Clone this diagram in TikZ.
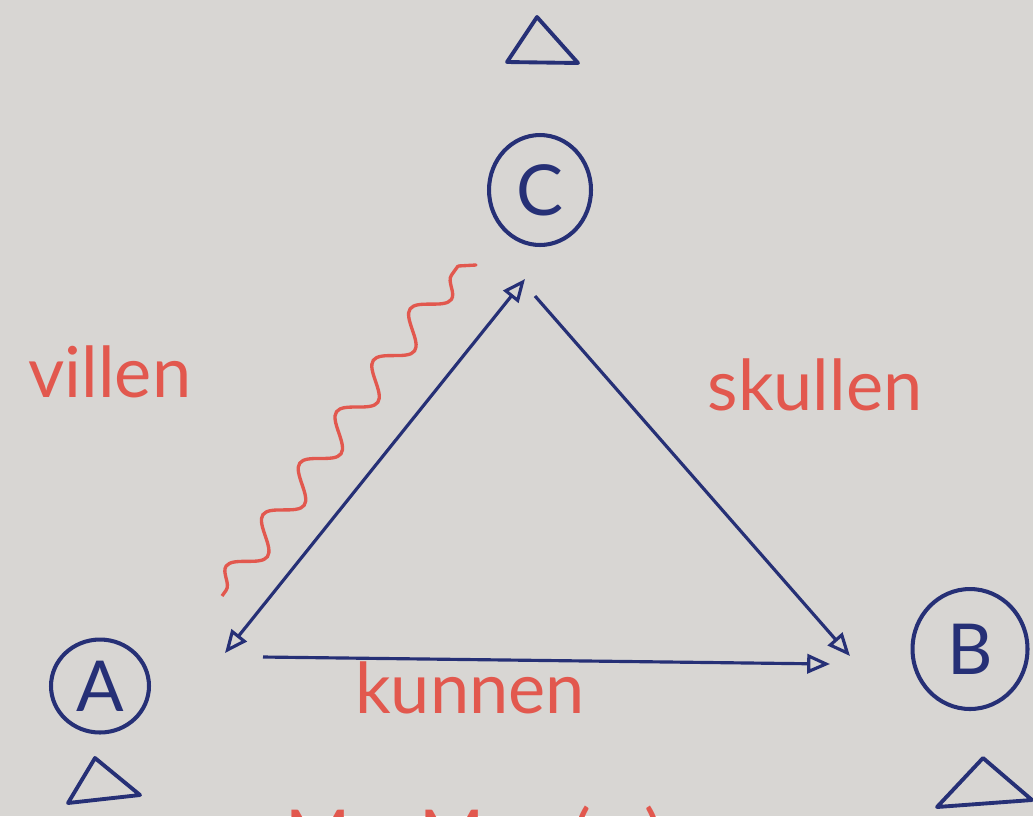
\documentclass[tikz,border=0pt]{standalone}
\usepackage{fontspec}
\setmainfont{Lato}
\usetikzlibrary{arrows.meta,shapes.geometric,decorations.pathmorphing}
\definecolor{paper}{RGB}{216,214,211}
\definecolor{ink}{RGB}{38,48,118}
\definecolor{redink}{RGB}{226,88,78}
\tikzset{
  letterring/.style={ellipse, draw=ink, line width=2.3pt, inner sep=0pt, text=ink, font=\fontsize{40}{44}\selectfont},
  verblabel/.style={text=redink, font=\fontsize{40}{44}\selectfont, inner sep=0pt, anchor=base},
  marktri/.style={draw=ink, line width=2.2pt, line join=round},
  conn/.style={draw=ink, line width=1.8pt, -{Triangle[open, length=13pt, width=11pt, line width=1.8pt]}},
  dconn/.style={draw=ink, line width=1.8pt, {Triangle[open, length=13pt, width=11pt, line width=1.8pt]}-{Triangle[open, length=13pt, width=11pt, line width=1.8pt]}},
  wavy/.style={draw=redink, line width=1.9pt, decorate, decoration={snake, segment length=36pt, amplitude=8pt, pre length=4pt, post length=2pt}},
}
\begin{document}
\begin{tikzpicture}[x=0.02cm, y=-0.02cm]
\useasboundingbox (0,0) rectangle (1033,816);
\clip (0,0) rectangle (1033,816);
\fill[paper] (0,0) rectangle (1033,816);

% letter nodes
\node[letterring, minimum width=2.04cm, minimum height=2.2cm] (C) at (540,190) {C};
\node[letterring, minimum width=1.96cm, minimum height=1.86cm] (A) at (100,686) {A};
\node[letterring, minimum width=2.3cm, minimum height=2.4cm] (B) at (970,649) {B};

% small triangles
\draw[marktri] (537,17) -- (507,62) -- (578,63) -- cycle;
\draw[marktri] (95,758) -- (68,803) -- (140,795) -- cycle;
\draw[marktri] (983,758) -- (937,807) -- (1032,800) -- cycle;

% connector end points
\coordinate (aTip) at (225,653);
\coordinate (cTipL) at (525,279);
\coordinate (cStartR) at (535,296);
\coordinate (bTipC) at (850,656);
\coordinate (aStartB) at (263,657);
\coordinate (bTipA) at (830,664);

\draw[dconn] (aTip) -- (cTipL);
\draw[conn] (cStartR) -- (bTipC);
\draw[conn] (aStartB) -- (bTipA);

% wavy line
\coordinate (wS) at (222,596);
\coordinate (wE) at (458,266);
\coordinate (wT) at (476,265);
\draw[wavy] (wS) -- (wE);
\draw[draw=redink, line width=1.9pt, line cap=round] (wE) -- (wT);

% labels
\node[verblabel] (villen) at (110,397) {villen};
\node[verblabel] (skullen) at (815,410) {skullen};
\node[verblabel] (kunnen) at (470,713) {kunnen};

% cut-off bottom text
\node[verblabel] (m1) at (318,860) {M};
\node[verblabel] (m2) at (452,860) {M};
\node[verblabel] (par) at (618,860) {(\hspace{30pt})};
\end{tikzpicture}
\end{document}
